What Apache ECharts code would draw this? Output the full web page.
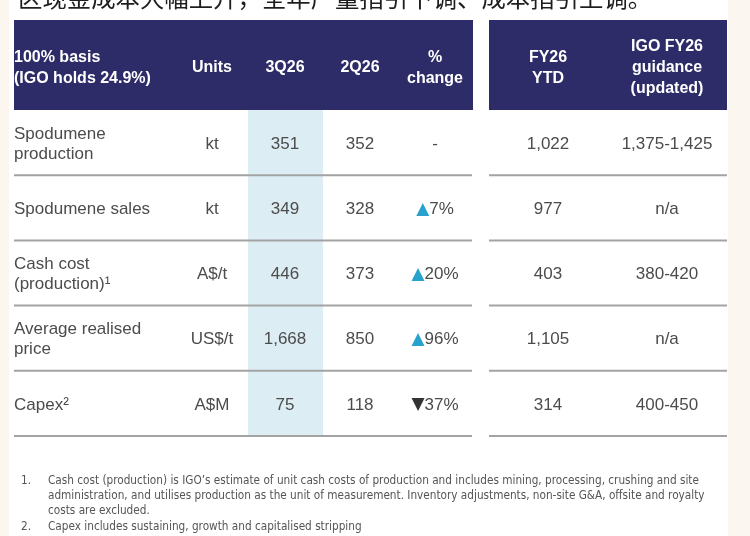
<!DOCTYPE html>
<html>
<head>
<meta charset="utf-8">
<script src="https://cdn.jsdelivr.net/npm/echarts@6/dist/echarts.min.js"></script>
<style>
html,body{margin:0;padding:0;background:#fbf6ef;}
#c{width:750px;height:536px;}
</style>
</head>
<body>
<div id="c"></div>
<script>
// ---- data ----
var titleText = '区现金成本大幅上升，全年产量指引下调、成本指引上调。';
var headLeft = ['100% basis', '(IGO holds 24.9%)'];
var headCols = [['Units'], ['3Q26'], ['2Q26'], ['%', 'change']];
var headRight = [['FY26', 'YTD'], ['IGO FY26', 'guidance', '(updated)']];
var rowLabels = [['Spodumene', 'production'], ['Spodumene sales'], ['Cash cost', '(production)¹'], ['Average realised', 'price'], ['Capex²']];
var units = ['kt', 'kt', 'A$/t', 'US$/t', 'A$M'];
var q3 = ['351', '349', '446', '1,668', '75'];
var q2 = ['352', '328', '373', '850', '118'];
var changeDir = [0, 1, 1, 1, -1];
var changePct = ['-', '7%', '20%', '96%', '37%'];
var ytd = ['1,022', '977', '403', '1,105', '314'];
var guidance = ['1,375-1,425', 'n/a', '380-420', 'n/a', '400-450'];
var notes = [
  ['1.', ['Cash cost (production) is IGO\u2019s estimate of unit cash costs of production and includes mining, processing, crushing and site',
          'administration, and utilises production as the unit of measurement. Inventory adjustments, non-site G&A, offsite and royalty',
          'costs are excluded.']],
  ['2.', ['Capex includes sustaining, growth and capitalised stripping']]
];

// ---- layout ----
var NAVY = '#2d2c68', TXT = '#4c4c4c', LINE = '#a3a3a3', HIL = '#dcedf3', UP = '#27a2cc', DOWN = '#333333';
var FONT = '"Liberation Sans", Arial, sans-serif';
var headTop = 20, headBot = 110, rowH = 65.2;
var leftX0 = 14, leftX1 = 473, rightX0 = 489, rightX1 = 727;
var colX = [212, 285, 360, 435];
var rightColX = [548, 667];
var hilX0 = 248, hilX1 = 323;

var g = [];
g.push({type: 'rect', shape: {x: 9, y: 0, width: 719, height: 536}, style: {fill: '#ffffff'}, silent: true});
g.push({type: 'text', x: 18, y: -2.5, style: {text: titleText, font: '24.4px "Noto Sans CJK SC", sans-serif', fill: '#1e1e1e', textVerticalAlign: 'middle', textAlign: 'left'}});
g.push({type: 'rect', shape: {x: leftX0, y: headTop, width: leftX1 - leftX0, height: headBot - headTop}, style: {fill: NAVY}});
g.push({type: 'rect', shape: {x: rightX0, y: headTop, width: rightX1 - rightX0, height: headBot - headTop}, style: {fill: NAVY}});
var nRows = rowLabels.length;
g.push({type: 'rect', shape: {x: hilX0, y: headBot, width: hilX1 - hilX0, height: rowH * nRows + 1}, style: {fill: HIL}});

function txt(x, y, s, opt) {
  opt = opt || {};
  g.push({type: 'text', x: x, y: y, z: 10, style: {
    text: s, font: (opt.bold ? 'bold ' : '') + (opt.size || 17) + 'px ' + FONT,
    fill: opt.color || TXT, textAlign: opt.align || 'center', textVerticalAlign: 'middle', rich: opt.rich
  }});
}
function multi(x, cy, lines, lh, opt) {
  var n = lines.length;
  for (var i = 0; i < n; i++) txt(x, cy + (i - (n - 1) / 2) * lh, lines[i], opt);
}
var headCy = (headTop + headBot) / 2 + 3;
var hopt = {bold: true, size: 16, color: '#ffffff'};
multi(leftX0, headCy, headLeft, 21, {bold: true, size: 16, color: '#ffffff', align: 'left'});
for (var i = 0; i < headCols.length; i++) multi(colX[i], headCy, headCols[i], 21, hopt);
for (var i = 0; i < headRight.length; i++) multi(rightColX[i], headCy, headRight[i], 21, hopt);

for (var r = 0; r < nRows; r++) {
  var cy = headBot + rowH * (r + 0.5) + 1.5;
  multi(leftX0, cy, rowLabels[r], 20, {align: 'left'});
  txt(colX[0], cy, units[r]);
  txt(colX[1], cy, q3[r]);
  txt(colX[2], cy, q2[r]);
  if (changeDir[r] === 0) {
    txt(colX[3], cy, changePct[r]);
  } else {
    var tri = changeDir[r] > 0 ? '▲' : '▼';
    txt(colX[3], cy, '{t|' + tri + '}{v|' + changePct[r] + '}', {
      rich: {
        t: {fill: changeDir[r] > 0 ? UP : DOWN, font: '17px "DejaVu Sans", sans-serif'},
        v: {fill: TXT, font: '17px ' + FONT}
      }
    });
  }
  txt(rightColX[0], cy, ytd[r]);
  txt(rightColX[1], cy, guidance[r]);
  var ly = headBot + rowH * (r + 1);
  g.push({type: 'line', z: 5, shape: {x1: leftX0, y1: ly, x2: leftX1 - 1, y2: ly}, style: {stroke: LINE, lineWidth: 2}});
  g.push({type: 'line', z: 5, shape: {x1: rightX0, y1: ly, x2: rightX1, y2: ly}, style: {stroke: LINE, lineWidth: 2}});
}

var ny = 481, nlh = 15.2;
var NFONT = '11.7px "DejaVu Sans Condensed", sans-serif';
for (var k = 0; k < notes.length; k++) {
  g.push({type: 'text', x: 21, y: ny, style: {text: notes[k][0], font: NFONT, fill: '#555', textVerticalAlign: 'middle'}});
  for (var j = 0; j < notes[k][1].length; j++) {
    g.push({type: 'text', x: 48, y: ny, style: {text: notes[k][1][j], font: NFONT, fill: '#555', textVerticalAlign: 'middle'}});
    ny += nlh;
  }
}

var chart = echarts.init(document.getElementById('c'));
chart.setOption({backgroundColor: 'transparent', animation: false, graphic: {elements: g}});
</script>
</body>
</html>
